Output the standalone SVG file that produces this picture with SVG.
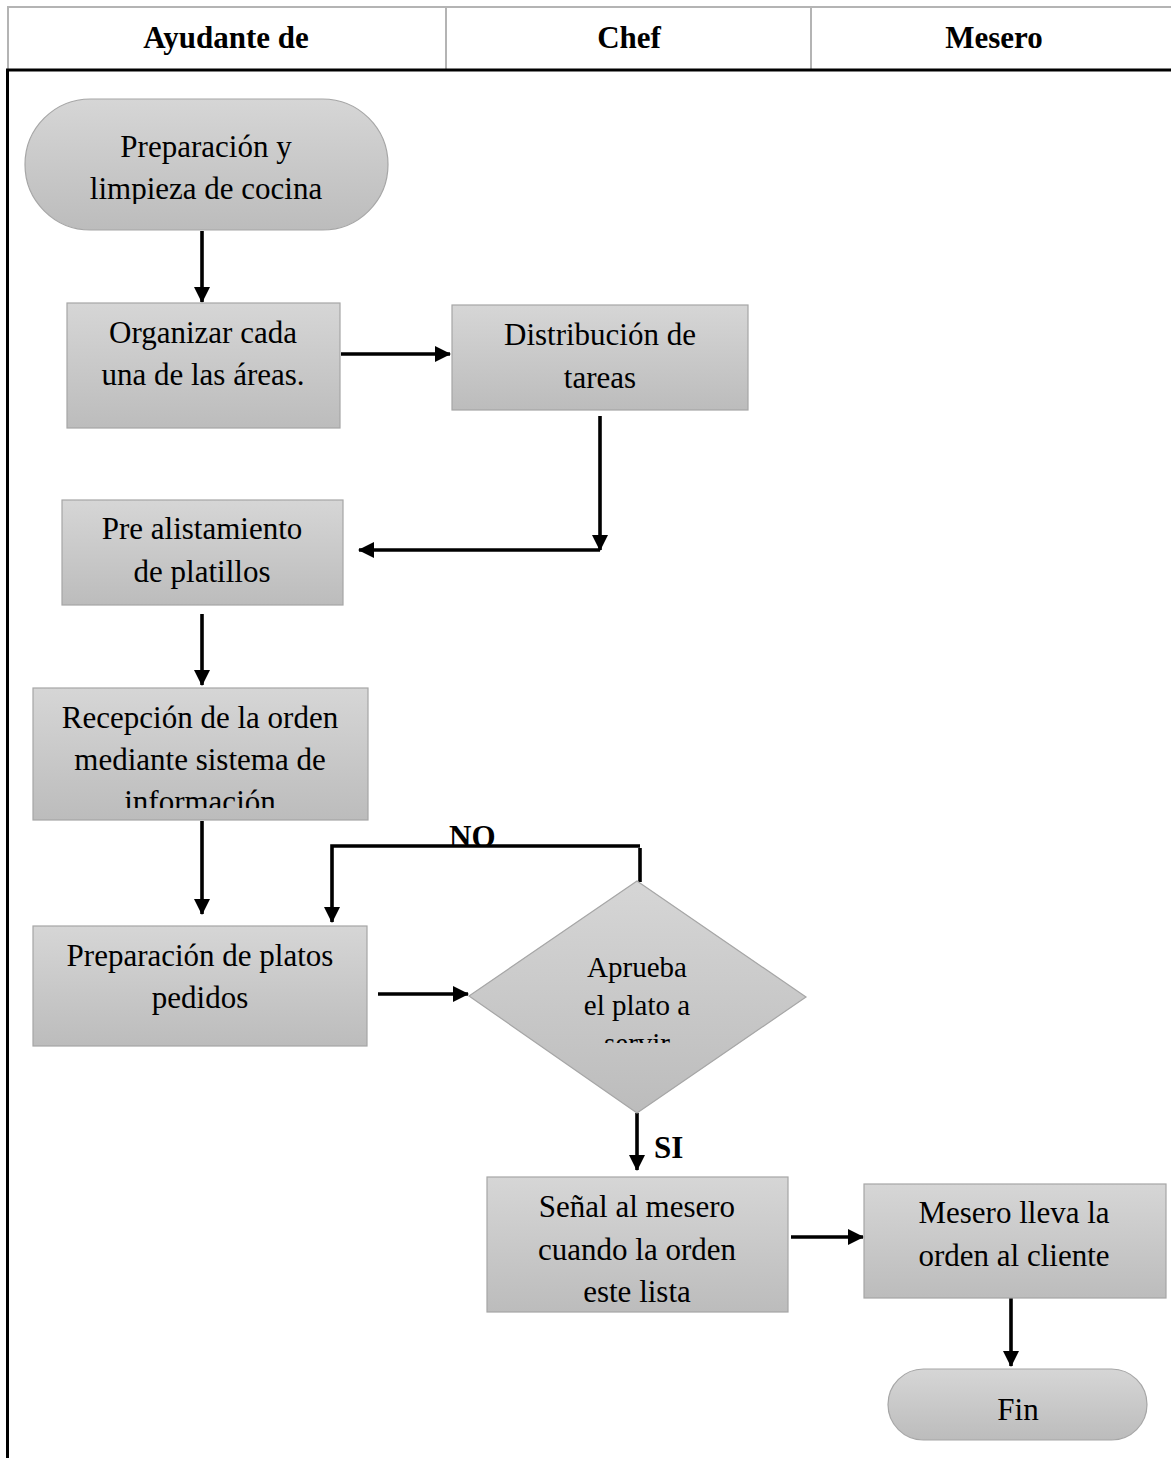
<svg xmlns="http://www.w3.org/2000/svg" width="1171" height="1458" viewBox="0 0 1171 1458">
  <style>
    .hdr { font-family: "Liberation Serif", "Times New Roman", serif; font-size: 31px; font-weight: bold; text-anchor: middle; fill: #000; }
    .lbl { font-family: "Liberation Serif", "Times New Roman", serif; font-size: 31px; font-weight: bold; fill: #000; }
    .txt { font-family: "Liberation Serif", "Times New Roman", serif; font-size: 31px; text-anchor: middle; fill: #000; }
    .dtxt { font-family: "Liberation Serif", "Times New Roman", serif; font-size: 29px; text-anchor: middle; fill: #000; }
    .shape { fill: url(#grey); stroke: #a6a6a6; stroke-width: 1.2; }
    .conn { fill: none; stroke: #000; stroke-width: 3.6; }
    .grid { stroke: #b4b4b4; stroke-width: 2; fill: none; }
  </style>
  <defs>
    <linearGradient id="grey" x1="0" y1="0" x2="0" y2="1">
      <stop offset="0" stop-color="#d6d6d6"/>
      <stop offset="1" stop-color="#bcbcbc"/>
    </linearGradient>
    <marker id="arrow" markerUnits="userSpaceOnUse" viewBox="0 0 16 16" refX="15" refY="8" markerWidth="16" markerHeight="16" orient="auto">
      <path d="M0,0 L16,8 L0,16 Z" fill="#000"/>
    </marker>
    <clipPath id="clipStart"><rect x="25" y="99" width="364" height="105"/></clipPath>
    <clipPath id="clipRecep"><rect x="33" y="688" width="336" height="120"/></clipPath>
    <clipPath id="clipDiam"><rect x="469" y="881" width="338" height="162"/></clipPath>
  </defs>

  <rect width="1171" height="1458" fill="#fff"/>

  <!-- swimlane table -->
  <g id="lanes">
    <line class="grid" x1="7" y1="7" x2="1171" y2="7"/>
    <line class="grid" x1="8" y1="6" x2="8" y2="70"/>
    <line class="grid" x1="446" y1="7" x2="446" y2="69"/>
    <line class="grid" x1="811" y1="7" x2="811" y2="69"/>
    <line x1="6" y1="70" x2="1171" y2="70" stroke="#000" stroke-width="3"/>
    <line x1="7.5" y1="69" x2="7.5" y2="1458" stroke="#000" stroke-width="3"/>
    <text class="hdr" x="226" y="48">Ayudante de</text>
    <text class="hdr" x="629" y="48">Chef</text>
    <text class="hdr" x="994" y="48">Mesero</text>
  </g>

  <!-- connectors -->
  <g id="connectors">
    <line class="conn" x1="202" y1="231" x2="202" y2="302" marker-end="url(#arrow)"/>
    <line class="conn" x1="341" y1="354" x2="450" y2="354" marker-end="url(#arrow)"/>
    <polyline class="conn" points="600,416 600,550" marker-end="url(#arrow)"/>
    <line class="conn" x1="600" y1="550" x2="359" y2="550" marker-end="url(#arrow)"/>
    <line class="conn" x1="202" y1="614" x2="202" y2="685" marker-end="url(#arrow)"/>
    <line class="conn" x1="202" y1="821" x2="202" y2="914" marker-end="url(#arrow)"/>
    <line class="conn" x1="378" y1="994" x2="468" y2="994" marker-end="url(#arrow)"/>
    <line class="conn" x1="640" y1="848" x2="640" y2="882"/>
    <polyline class="conn" points="640,846 332,846 332,922" marker-end="url(#arrow)"/>
    <line class="conn" x1="637" y1="1113" x2="637" y2="1170" marker-end="url(#arrow)"/>
    <line class="conn" x1="791" y1="1237" x2="863" y2="1237" marker-end="url(#arrow)"/>
    <line class="conn" x1="1011" y1="1298" x2="1011" y2="1366" marker-end="url(#arrow)"/>
    <text class="lbl" x="449" y="847">NO</text>
    <text class="lbl" x="654" y="1158">SI</text>
  </g>

  <!-- nodes -->
  <g id="start">
    <rect class="shape" x="25" y="99" width="363" height="131" rx="65.5" ry="65.5"/>
    <g clip-path="url(#clipStart)">
      <text class="txt" x="206" y="157">Preparación y</text>
      <text class="txt" x="206" y="199">limpieza de cocina</text>
    </g>
  </g>

  <g id="organizar">
    <rect class="shape" x="67" y="303" width="273" height="125"/>
    <text class="txt" x="203" y="343">Organizar cada</text>
    <text class="txt" x="203" y="385">una de las áreas.</text>
  </g>

  <g id="distribucion">
    <rect class="shape" x="452" y="305" width="296" height="105"/>
    <text class="txt" x="600" y="345">Distribución de</text>
    <text class="txt" x="600" y="388">tareas</text>
  </g>

  <g id="prealistamiento">
    <rect class="shape" x="62" y="500" width="281" height="105"/>
    <text class="txt" x="202" y="539">Pre alistamiento</text>
    <text class="txt" x="202" y="582">de platillos</text>
  </g>

  <g id="recepcion">
    <rect class="shape" x="33" y="688" width="335" height="132"/>
    <g clip-path="url(#clipRecep)">
      <text class="txt" x="200" y="728">Recepción de la orden</text>
      <text class="txt" x="200" y="770">mediante sistema de</text>
      <text class="txt" x="200" y="812">información</text>
    </g>
  </g>

  <g id="preparacion">
    <rect class="shape" x="33" y="926" width="334" height="120"/>
    <text class="txt" x="200" y="966">Preparación de platos</text>
    <text class="txt" x="200" y="1008">pedidos</text>
  </g>

  <g id="aprueba">
    <polygon class="shape" points="637,881 806,997 637,1113 469,996"/>
    <g clip-path="url(#clipDiam)">
      <text class="dtxt" x="637" y="977">Aprueba</text>
      <text class="dtxt" x="637" y="1015">el plato a</text>
      <text class="dtxt" x="637" y="1053">servir</text>
    </g>
  </g>

  <g id="senal">
    <rect class="shape" x="487" y="1177" width="301" height="135"/>
    <text class="txt" x="637" y="1217">Señal al mesero</text>
    <text class="txt" x="637" y="1260">cuando la orden</text>
    <text class="txt" x="637" y="1302">este lista</text>
  </g>

  <g id="mesero">
    <rect class="shape" x="864" y="1184" width="302" height="114"/>
    <text class="txt" x="1014" y="1223">Mesero lleva la</text>
    <text class="txt" x="1014" y="1266">orden al cliente</text>
  </g>

  <g id="fin">
    <rect class="shape" x="888" y="1369" width="259" height="71" rx="35.5" ry="35.5"/>
    <text class="txt" x="1018" y="1420">Fin</text>
  </g>
</svg>
